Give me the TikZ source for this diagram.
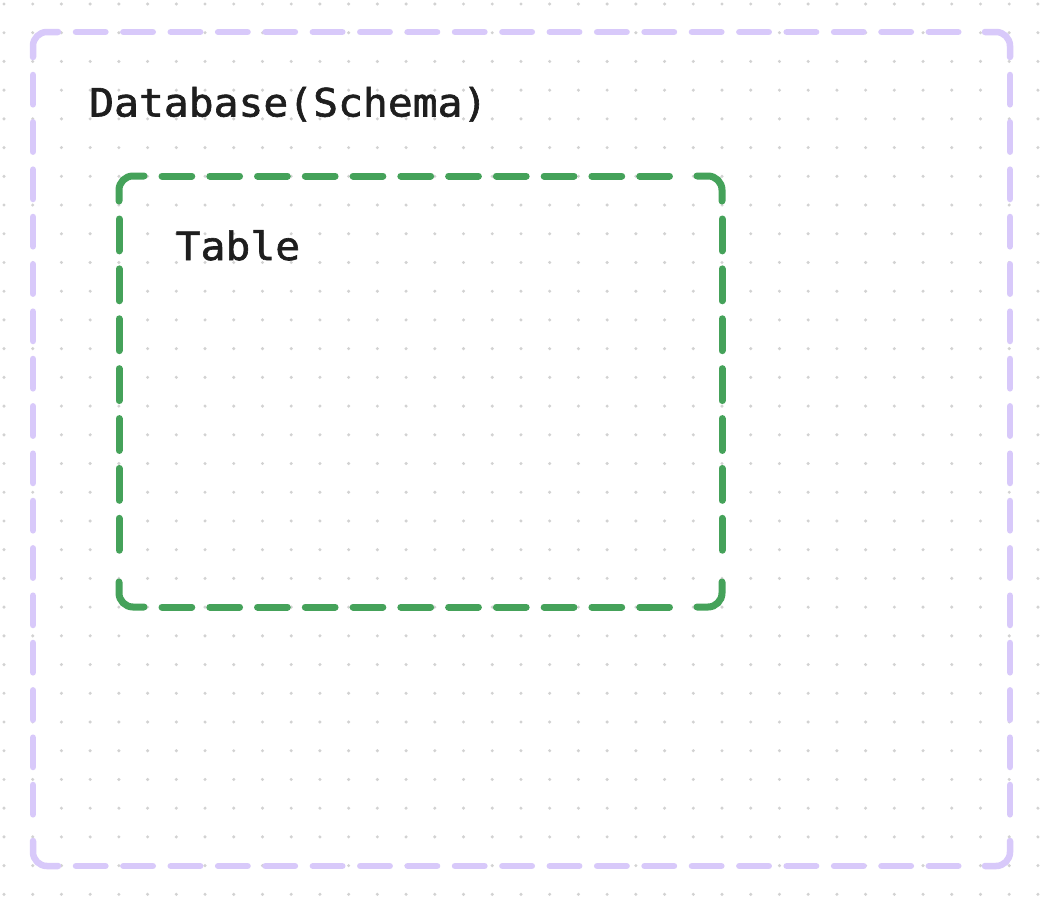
\documentclass[tikz,border=0pt]{standalone}
\usepackage{fontspec}
\newfontfamily\monof[FakeStretch=1.06,FakeBold=1.6]{DejaVu Sans Mono}
\definecolor{dotc}{HTML}{D2D2D2}
\definecolor{violetc}{HTML}{D8C9FA}
\definecolor{greenc}{HTML}{45A25A}
\definecolor{textc}{HTML}{1E1E1E}
\newcommand\myDashSide[4]{%
  \pgfmathsetmacro\Lside{veclen(#3-#1,#4-#2)}%
  \pgfmathsetmacro\nside{round((\Lside+18)/48)}%
  \pgfmathsetmacro\onlen{(\Lside-(\nside-1)*18)/\nside}%
  \draw[dash pattern=on \onlen pt off 18pt] (#1,#2) -- (#3,#4);%
}
% dashed rounded box: corners x0 y0 x1 y1
\newcommand\myDashBox[4]{%
  \draw[rounded corners=14pt] (#1,#2+25) -- (#1,#2) -- (#1+25,#2);
  \draw[rounded corners=14pt] (#3-25,#2) -- (#3,#2) -- (#3,#2+25);
  \draw[rounded corners=14pt] (#3,#4-25) -- (#3,#4) -- (#3-25,#4);
  \draw[rounded corners=14pt] (#1+25,#4) -- (#1,#4) -- (#1,#4-25);
  \myDashSide{#1+43}{#2}{#3-43}{#2}
  \myDashSide{#1+43}{#4}{#3-43}{#4}
  \myDashSide{#1}{#2+43}{#1}{#4-43}
  \myDashSide{#3}{#2+43}{#3}{#4-43}
}
\tikzset{
  lbl/.style={anchor=base west, inner sep=0pt, text=textc, font=\monof\fontsize{39}{46}\selectfont},
  outerbox/.style={draw=violetc, line width=6.5pt, line cap=round},
  innerbox/.style={draw=greenc, line width=7pt, line cap=round},
}
\begin{document}
\begin{tikzpicture}[x=1pt,y=-1pt]
\useasboundingbox (0,0) rectangle (1046,902);
\fill[white] (0,0) rectangle (1046,902);
\foreach \i in {0,...,36} {
  \foreach \j in {0,...,31} {
    \fill[dotc] ({4+28.72*\i},{4+28.72*\j}) circle (1.7);
  }
}
\begin{scope}[outerbox]
  \myDashBox{33}{32}{1010}{866}
\end{scope}
\begin{scope}[innerbox]
  \myDashBox{119}{176}{722}{607}
\end{scope}
\node[lbl] (db) at (89,116.5) {Database(Schema)};
\node[lbl] (table) at (175.5,260) {Table};
\end{tikzpicture}
\end{document}
